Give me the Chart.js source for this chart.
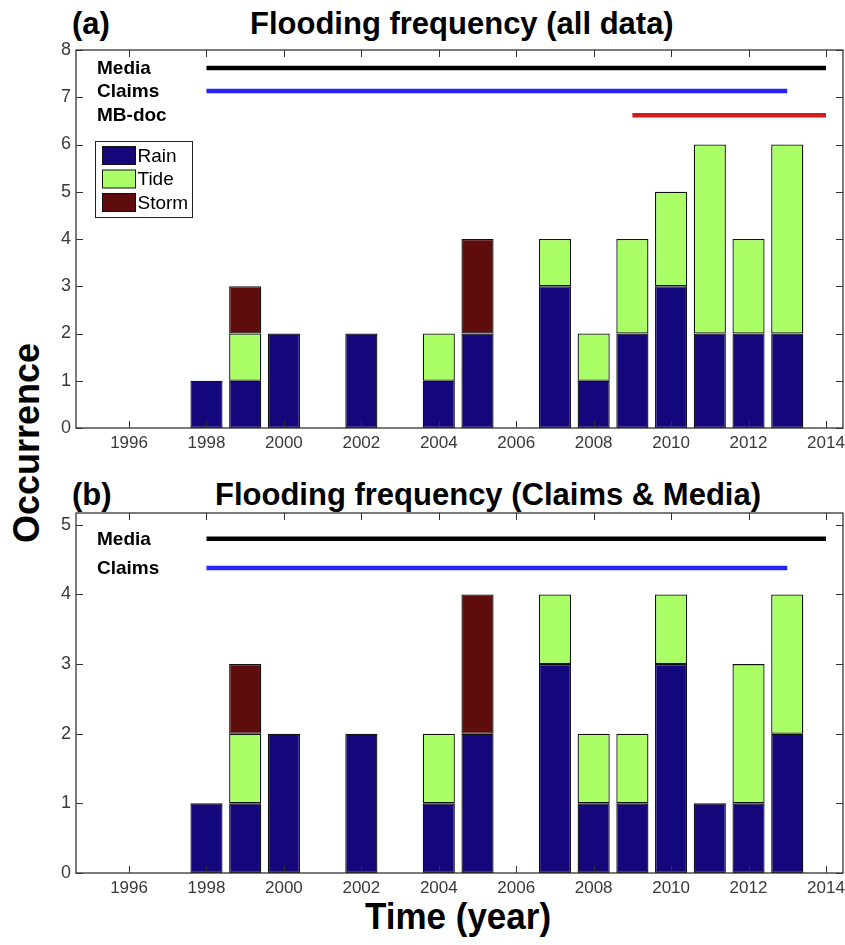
<!DOCTYPE html>
<html>
<head>
<meta charset="utf-8">
<script src="https://cdn.jsdelivr.net/npm/chart.js@4.4.0/dist/chart.umd.min.js"></script>
<style>
body{margin:0;background:#fff;}
#wrap{position:relative;width:845px;height:945px;font-family:'Liberation Sans',Arial,sans-serif;overflow:hidden;}
.t{position:absolute;font-weight:bold;font-size:31px;line-height:31px;white-space:nowrap;color:#000;}
.ylab{position:absolute;left:27px;top:443px;transform:translate(-50%,-50%) rotate(-90deg);font-weight:bold;font-size:36px;line-height:36px;white-space:nowrap;}
.xlab{position:absolute;left:458px;top:916px;transform:translate(-50%,-50%) scaleY(1.08);font-weight:bold;font-size:35px;line-height:36px;white-space:nowrap;}
canvas{position:absolute;left:0;}
</style>
</head>
<body>
<div id="wrap">
  <div class="t" style="left:72px;top:8px">(a)</div>
  <div class="t" style="left:250px;top:8px">Flooding frequency (all data)</div>
  <div class="t" style="left:72px;top:479px">(b)</div>
  <div class="t" style="left:215px;top:479px">Flooding frequency (Claims &amp; Media)</div>
  <div class="ylab">Occurrence</div>
  <div class="xlab">Time (year)</div>
  <canvas id="chartAll" width="845" height="470" style="top:0"></canvas>
  <canvas id="chartCM" width="845" height="440" style="top:470px"></canvas>
</div>
<script>
// datos
const years = [1998, 1999, 2000, 2002, 2004, 2005, 2007, 2008, 2009, 2010, 2011, 2012, 2013];

const rainAll  = [1, 1, 2, 2, 1, 2, 3, 1, 2, 3, 2, 2, 2];
const tideAll  = [0, 1, 0, 0, 1, 0, 1, 1, 2, 2, 4, 2, 4];
const stormAll = [0, 1, 0, 0, 0, 2, 0, 0, 0, 0, 0, 0, 0];

const rainCM   = [1, 1, 2, 2, 1, 2, 3, 1, 1, 3, 1, 1, 2];
const tideCM   = [0, 1, 0, 0, 1, 0, 1, 1, 1, 1, 0, 2, 2];
const stormCM  = [0, 1, 0, 0, 0, 2, 0, 0, 0, 0, 0, 0, 0];

const xTicks = [1996, 1998, 2000, 2002, 2004, 2006, 2008, 2010, 2012, 2014];
const yTicksAll = [0, 1, 2, 3, 4, 5, 6, 7, 8];
const yTicksCM  = [0, 1, 2, 3, 4, 5];

// periodos de cada fuente
const srcNamesAll = ["Media", "Claims", "MB-doc"];
const srcLevelAll = [7.62, 7.13, 6.62];
const srcStartAll = [1998, 1998, 2009];
const srcEndAll   = [2014, 2013, 2014];

const srcNamesCM = ["Media", "Claims"];
const srcLevelCM = [4.8, 4.38];
const srcStartCM = [1998, 1998];
const srcEndCM   = [2014, 2013];

const colores = { Rain: "#14077c", Tide: "#aaff66", Storm: "#5e0c0c" };
const colFuente = { "Media": "#000000", "Claims": "#2424ff", "MB-doc": "#d41c1c" };

const tickFontX = { family: "'Liberation Sans', sans-serif", size: 17 };
const tickFontY = { family: "'Liberation Sans', sans-serif", size: 18 };

const marco = {
  id: "marco",
  afterDatasetsDraw(chart, args, o) {
    const { ctx, chartArea: a, scales: { x, y } } = chart;
    ctx.save();
    ctx.strokeStyle = "#333";
    ctx.lineWidth = 1.3;
    ctx.strokeRect(a.left, a.top, a.right - a.left, a.bottom - a.top);
    ctx.beginPath();
    x.ticks.forEach(t => {
      const px = Math.round(x.getPixelForValue(t.value)) + 0.5;
      ctx.moveTo(px, a.bottom); ctx.lineTo(px, a.bottom - 7);
      ctx.moveTo(px, a.top); ctx.lineTo(px, a.top + 7);
    });
    y.ticks.forEach(t => {
      const py = Math.round(y.getPixelForValue(t.value)) + 0.5;
      ctx.moveTo(a.left, py); ctx.lineTo(a.left + 7, py);
      ctx.moveTo(a.right, py); ctx.lineTo(a.right - 7, py);
    });
    ctx.lineWidth = 1;
    ctx.stroke();

    // nombres de las fuentes
    ctx.fillStyle = "#000";
    ctx.font = "bold 19px 'Liberation Sans', sans-serif";
    ctx.textBaseline = "middle";
    ctx.textAlign = "left";
    o.nombres.forEach((n, i) => {
      ctx.fillText(n, a.left + 21, y.getPixelForValue(o.niveles[i]) + 1);
    });

    // leyenda dentro del area
    if (o.leyenda) {
      const bx = a.left + 19.5, by = a.top + 91.5;
      ctx.fillStyle = "#fff";
      ctx.fillRect(bx, by, 97, 76);
      ctx.strokeStyle = "#222";
      ctx.lineWidth = 1;
      ctx.strokeRect(bx, by, 97, 76);
      ctx.font = "19px 'Liberation Sans', sans-serif";
      chart.data.datasets.filter(d => d.type !== "line").forEach((d, i) => {
        const sy = by + 5 + i * 23.5;
        ctx.fillStyle = d.backgroundColor;
        ctx.fillRect(bx + 7, sy, 33, 18);
        ctx.strokeStyle = "#111";
        ctx.strokeRect(bx + 7, sy, 33, 18);
        ctx.fillStyle = "#000";
        ctx.fillText(d.label, bx + 42, sy + 10);
      });
    }
    ctx.restore();
  }
};

function serieBarras(label, vals) {
  return {
    type: "bar",
    label: label,
    data: years.map((yr, i) => ({ x: yr, y: vals[i] || null })),
    backgroundColor: colores[label],
    borderColor: "#111",
    borderWidth: 1.3,
    borderSkipped: false,
    barPercentage: 0.83,
    categoryPercentage: 1
  };
}

function serieFuente(nombre, nivel, ini, fin) {
  return {
    type: "line",
    label: nombre,
    stack: "f_" + nombre,
    data: [{ x: ini, y: nivel }, { x: fin, y: nivel }],
    borderColor: colFuente[nombre],
    borderWidth: 4.5,
    borderCapStyle: "butt",
    pointRadius: 0,
    fill: false
  };
}

function crearPanel(id, rain, tide, storm, nombres, niveles, ini, fin, yTicks, yMax, pad, leyenda) {
  const datasets = [
    serieBarras("Rain", rain),
    serieBarras("Tide", tide),
    serieBarras("Storm", storm)
  ];
  nombres.forEach((n, i) => datasets.push(serieFuente(n, niveles[i], ini[i], fin[i])));

  return new Chart(document.getElementById(id), {
    type: "bar",
    data: { datasets },
    options: {
      responsive: false,
      animation: false,
      events: [],
      layout: { padding: pad },
      plugins: {
        legend: { display: false },
        tooltip: { enabled: false },
        marco: { nombres, niveles, leyenda }
      },
      scales: {
        x: {
          type: "linear",
          min: 1994.63,
          max: 2014.44,
          offset: false,
          stacked: true,
          grid: { display: false, drawTicks: false },
          border: { display: false },
          ticks: {
            font: tickFontX, color: "#3a3a3a", padding: 5,
            autoSkip: false, maxRotation: 0,
            callback: v => String(v)
          },
          afterBuildTicks: s => { s.ticks = xTicks.map(v => ({ value: v })); },
          afterFit: s => { s.height = 36; s.paddingLeft = 0; s.paddingRight = 0; }
        },
        y: {
          min: 0,
          max: yMax,
          stacked: true,
          grid: { display: false, drawTicks: false },
          border: { display: false },
          ticks: { font: tickFontY, color: "#3a3a3a", padding: 5 },
          afterBuildTicks: s => { s.ticks = yTicks.map(v => ({ value: v })); },
          afterFit: s => { s.width = 36; s.paddingTop = 0; s.paddingBottom = 0; }
        }
      }
    },
    plugins: [marco]
  });
}

crearPanel("chartAll", rainAll, tideAll, stormAll, srcNamesAll, srcLevelAll, srcStartAll, srcEndAll,
  yTicksAll, 8, { left: 40, right: 2, top: 50, bottom: 6 }, true);
crearPanel("chartCM", rainCM, tideCM, stormCM, srcNamesCM, srcLevelCM, srcStartCM, srcEndCM,
  yTicksCM, 5.17, { left: 40, right: 2, top: 43, bottom: 1 }, false);
</script>
</body>
</html>
